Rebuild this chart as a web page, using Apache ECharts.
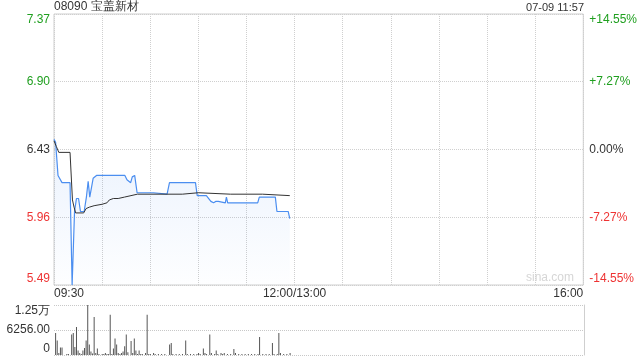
<!DOCTYPE html>
<html><head><meta charset="utf-8">
<script src="https://cdn.jsdelivr.net/npm/echarts@6/dist/echarts.min.js"></script>
<style>html,body{margin:0;padding:0;background:#fff}#c{width:640px;height:360px}</style>
</head><body><div id="c"></div>
<script>
const titleText = '08090 宝盖新材';
const timeText = '07-09 11:57';
const watermark = 'sina.com';
const priceTicks = [5.49, 5.96, 6.43, 6.90, 7.37];
const prevClose = 6.43;
const pctLabels = ['-14.55%', '-7.27%', '0.00%', '+7.27%', '+14.55%'];
const timeTicks = [0, 150, 330];
const timeLabels = ['09:30', '12:00/13:00', '16:00'];
const volTicks = [0, 6256, 12512];
const volLabels = ['0', '6256.00', '1.25万'];

const priceMinutes = [0, 1, 2.5, 3.5, 5, 10, 11.3, 12.8, 14, 15.3, 16.5, 18.8, 20.2, 21.3, 22.3, 23.4, 24.4, 25.5, 26.5, 44.2, 45.5, 46.7, 47.8, 48.8, 50.3, 51.8, 62, 63, 70.5, 72, 88.2, 89.3, 95, 97.8, 99.5, 100.8, 102.5, 103.3, 106.8, 107.5, 108.3, 127, 128, 138, 139, 146, 147];
const priceValues  = [6.50, 6.48, 6.25, 6.24, 6.20, 6.20, 5.49, 6.00, 6.09, 6.09, 6.00, 6.00, 6.10, 6.21, 6.10, 6.10, 6.23, 6.24, 6.25, 6.25, 6.22, 6.21, 6.20, 6.24, 6.25, 6.13, 6.13, 6.12, 6.12, 6.20, 6.20, 6.11, 6.11, 6.07, 6.06, 6.07, 6.07, 6.06, 6.06, 6.10, 6.06, 6.06, 6.10, 6.10, 6.00, 6.00, 5.95];

const avgMinutes = [0, 1.5, 3, 10, 11.5, 12.5, 13.5, 18.5, 20, 22, 25, 30, 33, 34.5, 37, 40, 44, 48, 52, 60, 80, 90, 110, 130, 147];
const avgValues  = [6.49, 6.45, 6.41, 6.41, 6.08, 6.03, 5.99, 5.99, 6.02, 6.03, 6.04, 6.05, 6.06, 6.08, 6.09, 6.09, 6.10, 6.11, 6.12, 6.12, 6.12, 6.13, 6.12, 6.12, 6.11];

const volMinutes = [1, 2, 3, 4, 5, 8, 9, 11, 12, 13, 14, 15, 16, 17, 18, 19, 20, 21, 22, 23, 24, 25, 26, 27, 28, 30, 31, 32, 33, 34, 35, 36, 37, 38, 39, 40, 41, 42, 43, 44, 45, 46, 48, 49, 50, 51, 52, 53, 54, 55, 57, 58, 59, 60, 62, 63, 65, 67, 69, 72, 73, 74, 76, 78, 80, 82, 83, 85, 87, 89, 90, 91, 93, 94, 95, 97, 98, 100, 101, 102, 104, 105, 106, 108, 110, 112, 113, 115, 117, 119, 121, 123, 125, 127, 128, 130, 132, 134, 136, 137, 139, 140, 141, 143, 145, 147];
const volValues  = [5500, 3600, 500, 1900, 1900, 250, 250, 5100, 5500, 2000, 7000, 1100, 500, 250, 1100, 1750, 3600, 12500, 2600, 900, 400, 9500, 500, 1600, 250, 250, 250, 500, 250, 250, 10100, 250, 1600, 4100, 2600, 500, 250, 500, 900, 2200, 5100, 700, 3500, 500, 4100, 1100, 250, 1100, 250, 250, 500, 10100, 250, 250, 500, 250, 250, 250, 250, 2600, 3000, 250, 250, 250, 250, 3600, 250, 250, 250, 250, 500, 250, 1600, 500, 250, 5100, 500, 250, 1100, 250, 500, 250, 500, 250, 250, 1500, 500, 250, 250, 250, 250, 250, 250, 250, 4500, 250, 250, 250, 3000, 250, 250, 5500, 500, 250, 250, 500];

const zip = (a, b) => a.map((v, i) => [v, b[i]]);
const FONT = 'Arial, "Liberation Sans", sans-serif';
const GREEN = '#1f9f1f', RED = '#ee3333', DARK = '#333';
const priceColor = v => {
  const n = parseFloat(v);
  return n > prevClose + 1e-6 ? GREEN : (n < prevClose - 1e-6 ? RED : DARK);
};

const chart = echarts.init(document.getElementById('c'), null, {renderer: 'canvas'});
chart.setOption({
  animation: false,
  backgroundColor: '#fff',
  textStyle: {fontFamily: FONT},
  title: [
    {text: titleText, left: 54, top: 1, padding: 0, textStyle: {fontSize: 12, fontWeight: 'normal', color: DARK, fontFamily: FONT}},
    {text: timeText, right: 56, top: 2, padding: 0, textStyle: {fontSize: 11, fontWeight: 'normal', color: DARK, fontFamily: FONT}}
  ],
  graphic: [{type: 'text', right: 66, top: 272, silent: true,
    style: {text: watermark, fill: '#d6d6d6', font: '12px ' + FONT}}],
  grid: [
    {left: 54, top: 14, width: 530, height: 271, show: true, borderColor: '#cfcfcf', borderWidth: 1, containLabel: false},
    {left: 54, top: 305, width: 530, height: 50, show: false, containLabel: false}
  ],
  xAxis: [
    {type: 'value', gridIndex: 0, min: 0, max: 330, interval: 30,
      axisLine: {show: false}, axisTick: {show: false},
      axisLabel: {formatter: v => { const i = timeTicks.indexOf(v); return i >= 0 ? timeLabels[i] : ''; },
        alignMinLabel: 'left', alignMaxLabel: 'right', showMinLabel: true, showMaxLabel: true, hideOverlap: false,
        margin: 3, fontSize: 12, color: DARK, fontFamily: FONT},
      splitLine: {show: true, lineStyle: {type: 'dotted', color: '#cfcfcf', width: 1}}},
    {type: 'value', gridIndex: 1, min: 0, max: 330, interval: 30,
      axisLine: {show: false}, axisTick: {show: false}, axisLabel: {show: false}, splitLine: {show: false}}
  ],
  yAxis: [
    {type: 'value', gridIndex: 0, position: 'left', min: priceTicks[0], max: priceTicks[priceTicks.length - 1],
      axisLine: {show: false}, axisTick: {show: false, customValues: priceTicks},
      axisLabel: {customValues: priceTicks, formatter: v => Number(v).toFixed(2), color: priceColor,
        fontSize: 12, margin: 4, fontFamily: FONT, verticalAlignMinLabel: 'bottom', verticalAlignMaxLabel: 'top'},
      splitLine: {show: true, customValues: priceTicks, lineStyle: {type: 'dotted', color: '#cfcfcf'}}},
    {type: 'value', gridIndex: 0, position: 'right', min: priceTicks[0], max: priceTicks[priceTicks.length - 1],
      axisLine: {show: false}, axisTick: {show: false, customValues: priceTicks},
      axisLabel: {customValues: priceTicks,
        formatter: v => { let best = 0; priceTicks.forEach((t, i) => { if (Math.abs(t - v) < Math.abs(priceTicks[best] - v)) best = i; }); return pctLabels[best]; },
        color: priceColor, fontSize: 12, margin: 6, fontFamily: FONT, verticalAlignMinLabel: 'bottom', verticalAlignMaxLabel: 'top'},
      splitLine: {show: false}},
    {type: 'value', gridIndex: 1, position: 'left', min: 0, max: volTicks[2], interval: volTicks[1],
      axisLine: {show: false}, axisTick: {show: false},
      axisLabel: {formatter: v => { const i = volTicks.indexOf(v); return i >= 0 ? volLabels[i] : ''; },
        color: DARK, fontSize: 12, margin: 4, fontFamily: FONT, showMinLabel: true, showMaxLabel: true,
        verticalAlignMinLabel: 'bottom', verticalAlignMaxLabel: 'top'},
      splitLine: {show: true, lineStyle: {type: 'dotted', color: '#c8c8c8', width: 1}}},
    {type: 'value', gridIndex: 1, position: 'right', min: 0, max: volTicks[2], interval: volTicks[1],
      axisLine: {show: true, lineStyle: {color: '#cfcfcf'}}, axisTick: {show: false}, axisLabel: {show: false}, splitLine: {show: false}}
  ],
  series: [
    {type: 'line', xAxisIndex: 0, yAxisIndex: 0, data: zip(priceMinutes, priceValues), showSymbol: false,
      lineStyle: {color: '#4b8ef0', width: 1.2}, itemStyle: {color: '#4b8ef0'},
      areaStyle: {origin: 'start', color: new echarts.graphic.LinearGradient(0, 0, 0, 1, [
        {offset: 0, color: 'rgba(75,142,240,0.16)'}, {offset: 1, color: 'rgba(75,142,240,0.01)'}])},
      z: 3},
    {type: 'line', xAxisIndex: 0, yAxisIndex: 0, data: zip(avgMinutes, avgValues), showSymbol: false,
      lineStyle: {color: '#333', width: 1}, itemStyle: {color: '#333'}, z: 4},
    {type: 'bar', xAxisIndex: 1, yAxisIndex: 2, data: zip(volMinutes, volValues), barWidth: 1,
      itemStyle: {color: '#555'}}
  ]
});
</script></body></html>
